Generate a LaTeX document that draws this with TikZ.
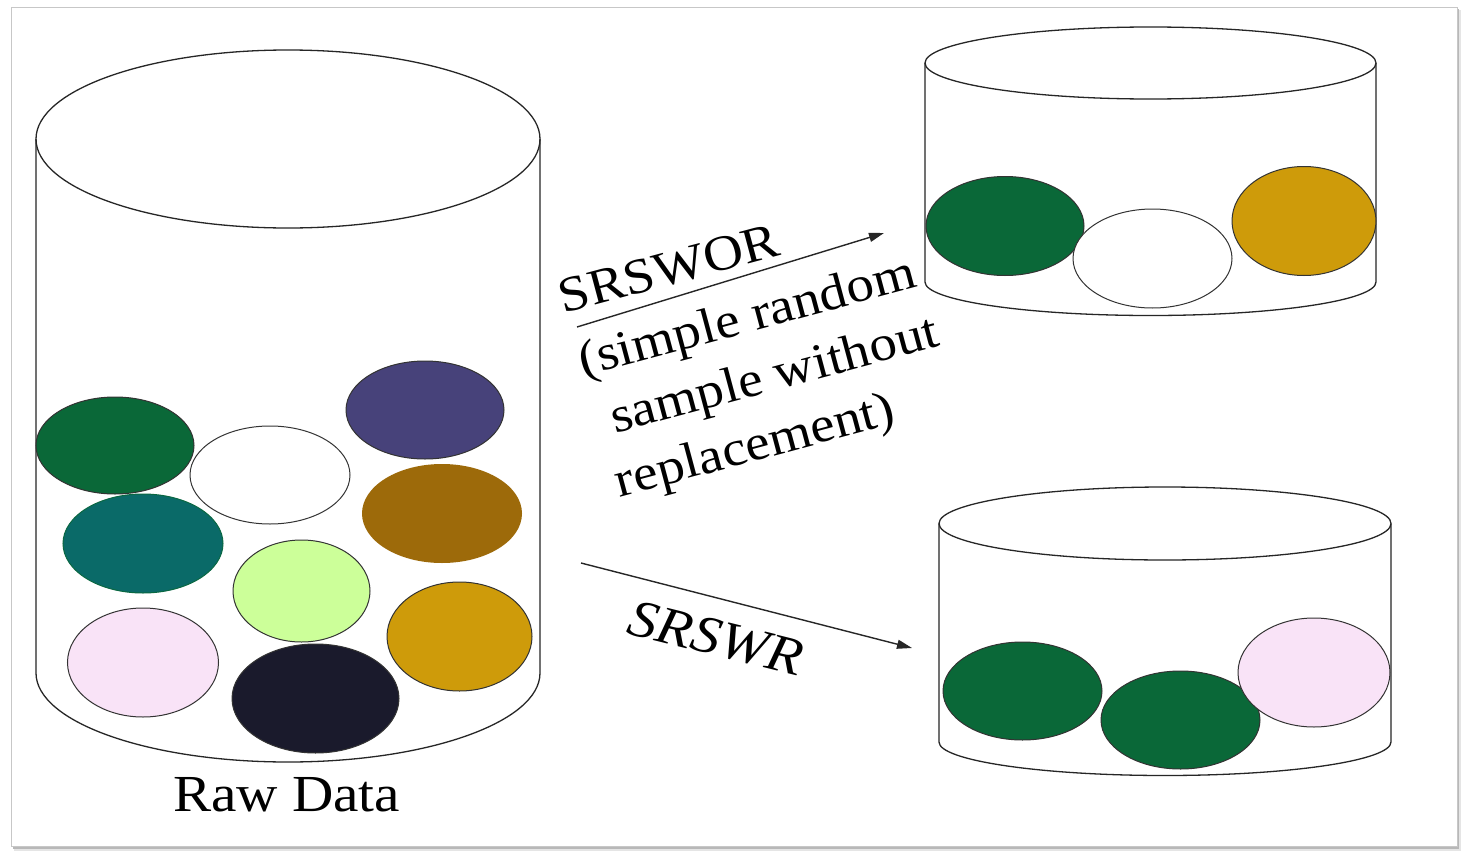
\documentclass[tikz,border=0pt]{standalone}
\usepackage{fontspec}
\newfontfamily\tnr{Liberation Serif}[FakeStretch=1.1]
\usetikzlibrary{arrows.meta}
\definecolor{ballgreen}{RGB}{10,104,56}
\definecolor{ballpurple}{RGB}{71,66,122}
\definecolor{ballteal}{RGB}{10,106,104}
\definecolor{ballbrown}{RGB}{157,106,10}
\definecolor{balllime}{RGB}{204,255,153}
\definecolor{ballgold}{RGB}{206,155,10}
\definecolor{ballpink}{RGB}{249,227,247}
\definecolor{ballnavy}{RGB}{26,26,44}
\begin{document}
\begin{tikzpicture}[x=1pt,y=-1pt,
  outline/.style={draw=black!85, line width=1.3pt},
  ball/.style={draw=black!80, line width=1pt},
  flow/.style={draw=black!85, line width=1.4pt, -{Triangle[length=15pt,width=9pt]}},
  lbl/.style={font=\tnr\fontsize{50}{63}\selectfont, inner sep=0pt}
]
\useasboundingbox (0,0) rectangle (1468,862);
% frame with shadow
\fill[black!10] (14,10) rectangle (1461,851);
\fill[black!28] (13,9) rectangle (1459,849);
\fill[white, draw=black!22, line width=1pt] (11,7) rectangle (1457,846);

% ---- left cylinder (raw data)
\draw[outline] (36,139) -- (36,673) arc[start angle=180,end angle=360,x radius=252pt,y radius=89pt] -- (540,139);
\draw[outline] (288,139) ellipse [x radius=252pt, y radius=89pt];
\draw[ball, fill=ballgreen]  (115,445.5) ellipse [x radius=79pt, y radius=48.5pt];
\draw[ball, fill=white]      (270,475) ellipse [x radius=80pt, y radius=49pt];
\draw[ball, fill=ballpurple] (425,410) ellipse [x radius=79pt, y radius=49pt];
\fill[ballteal, draw=ballgreen!80!ballteal, line width=1pt] (143,543.5) ellipse [x radius=80pt, y radius=49.5pt];
\fill[ballbrown] (442,513.5) ellipse [x radius=80pt, y radius=49.5pt];
\draw[ball, fill=balllime]   (301.5,591) ellipse [x radius=68.5pt, y radius=51pt];
\draw[ball, fill=ballgold]   (459.5,636.5) ellipse [x radius=72.5pt, y radius=54.5pt];
\draw[ball, fill=ballpink]   (143,662.5) ellipse [x radius=75.5pt, y radius=54.5pt];
\draw[ball, fill=ballnavy]   (315.5,698.5) ellipse [x radius=83.5pt, y radius=54.5pt];
\node[lbl, font=\tnr\fontsize{52}{60}\selectfont, anchor=base west] (raw) at (173,811) {Raw Data};

% ---- top right cylinder (SRSWOR)
\draw[outline] (925,63) -- (925,282) arc[start angle=180,end angle=360,x radius=225.5pt,y radius=33.5pt] -- (1376,63);
\draw[outline] (1150.5,63) ellipse [x radius=225.5pt, y radius=36pt];
\draw[ball, fill=ballgreen] (1005,226) ellipse [x radius=79pt, y radius=49.5pt];
\draw[ball, fill=white]     (1152.5,258.5) ellipse [x radius=79.5pt, y radius=49.5pt];
\draw[ball, fill=ballgold]  (1304,221) ellipse [x radius=72pt, y radius=54.5pt];

% ---- bottom right cylinder (SRSWR)
\draw[outline] (939,523.5) -- (939,742) arc[start angle=180,end angle=360,x radius=226pt,y radius=33.5pt] -- (1391,523.5);
\draw[outline] (1165,523.5) ellipse [x radius=226pt, y radius=36.5pt];
\draw[ball, fill=ballgreen] (1022.5,691) ellipse [x radius=79.5pt, y radius=49pt];
\draw[ball, fill=ballgreen] (1180.5,720) ellipse [x radius=79.5pt, y radius=49pt];
\draw[ball, fill=ballpink]  (1314,672.5) ellipse [x radius=76pt, y radius=54.5pt];

% ---- arrows
\coordinate (woS) at (577,327);
\coordinate (woE) at (884,233);
\coordinate (wS) at (581,563);
\coordinate (wE) at (912,648);
\draw[flow] (woS) -- (woE);
\draw[flow] (wS) -- (wE);

% ---- labels
\node[lbl, rotate=15, anchor=base west, align=left] (wor) at (613,499)
  {SRSWOR\\[3pt]\hspace*{3pt}(simple random\\\hspace*{19pt}sample without\\\hspace*{7pt}replacement)};
\node[lbl, rotate=-14, anchor=base west, font=\tnr\itshape\fontsize{53}{60}\selectfont] (wr) at (625,633) {SRSWR};
\end{tikzpicture}
\end{document}
